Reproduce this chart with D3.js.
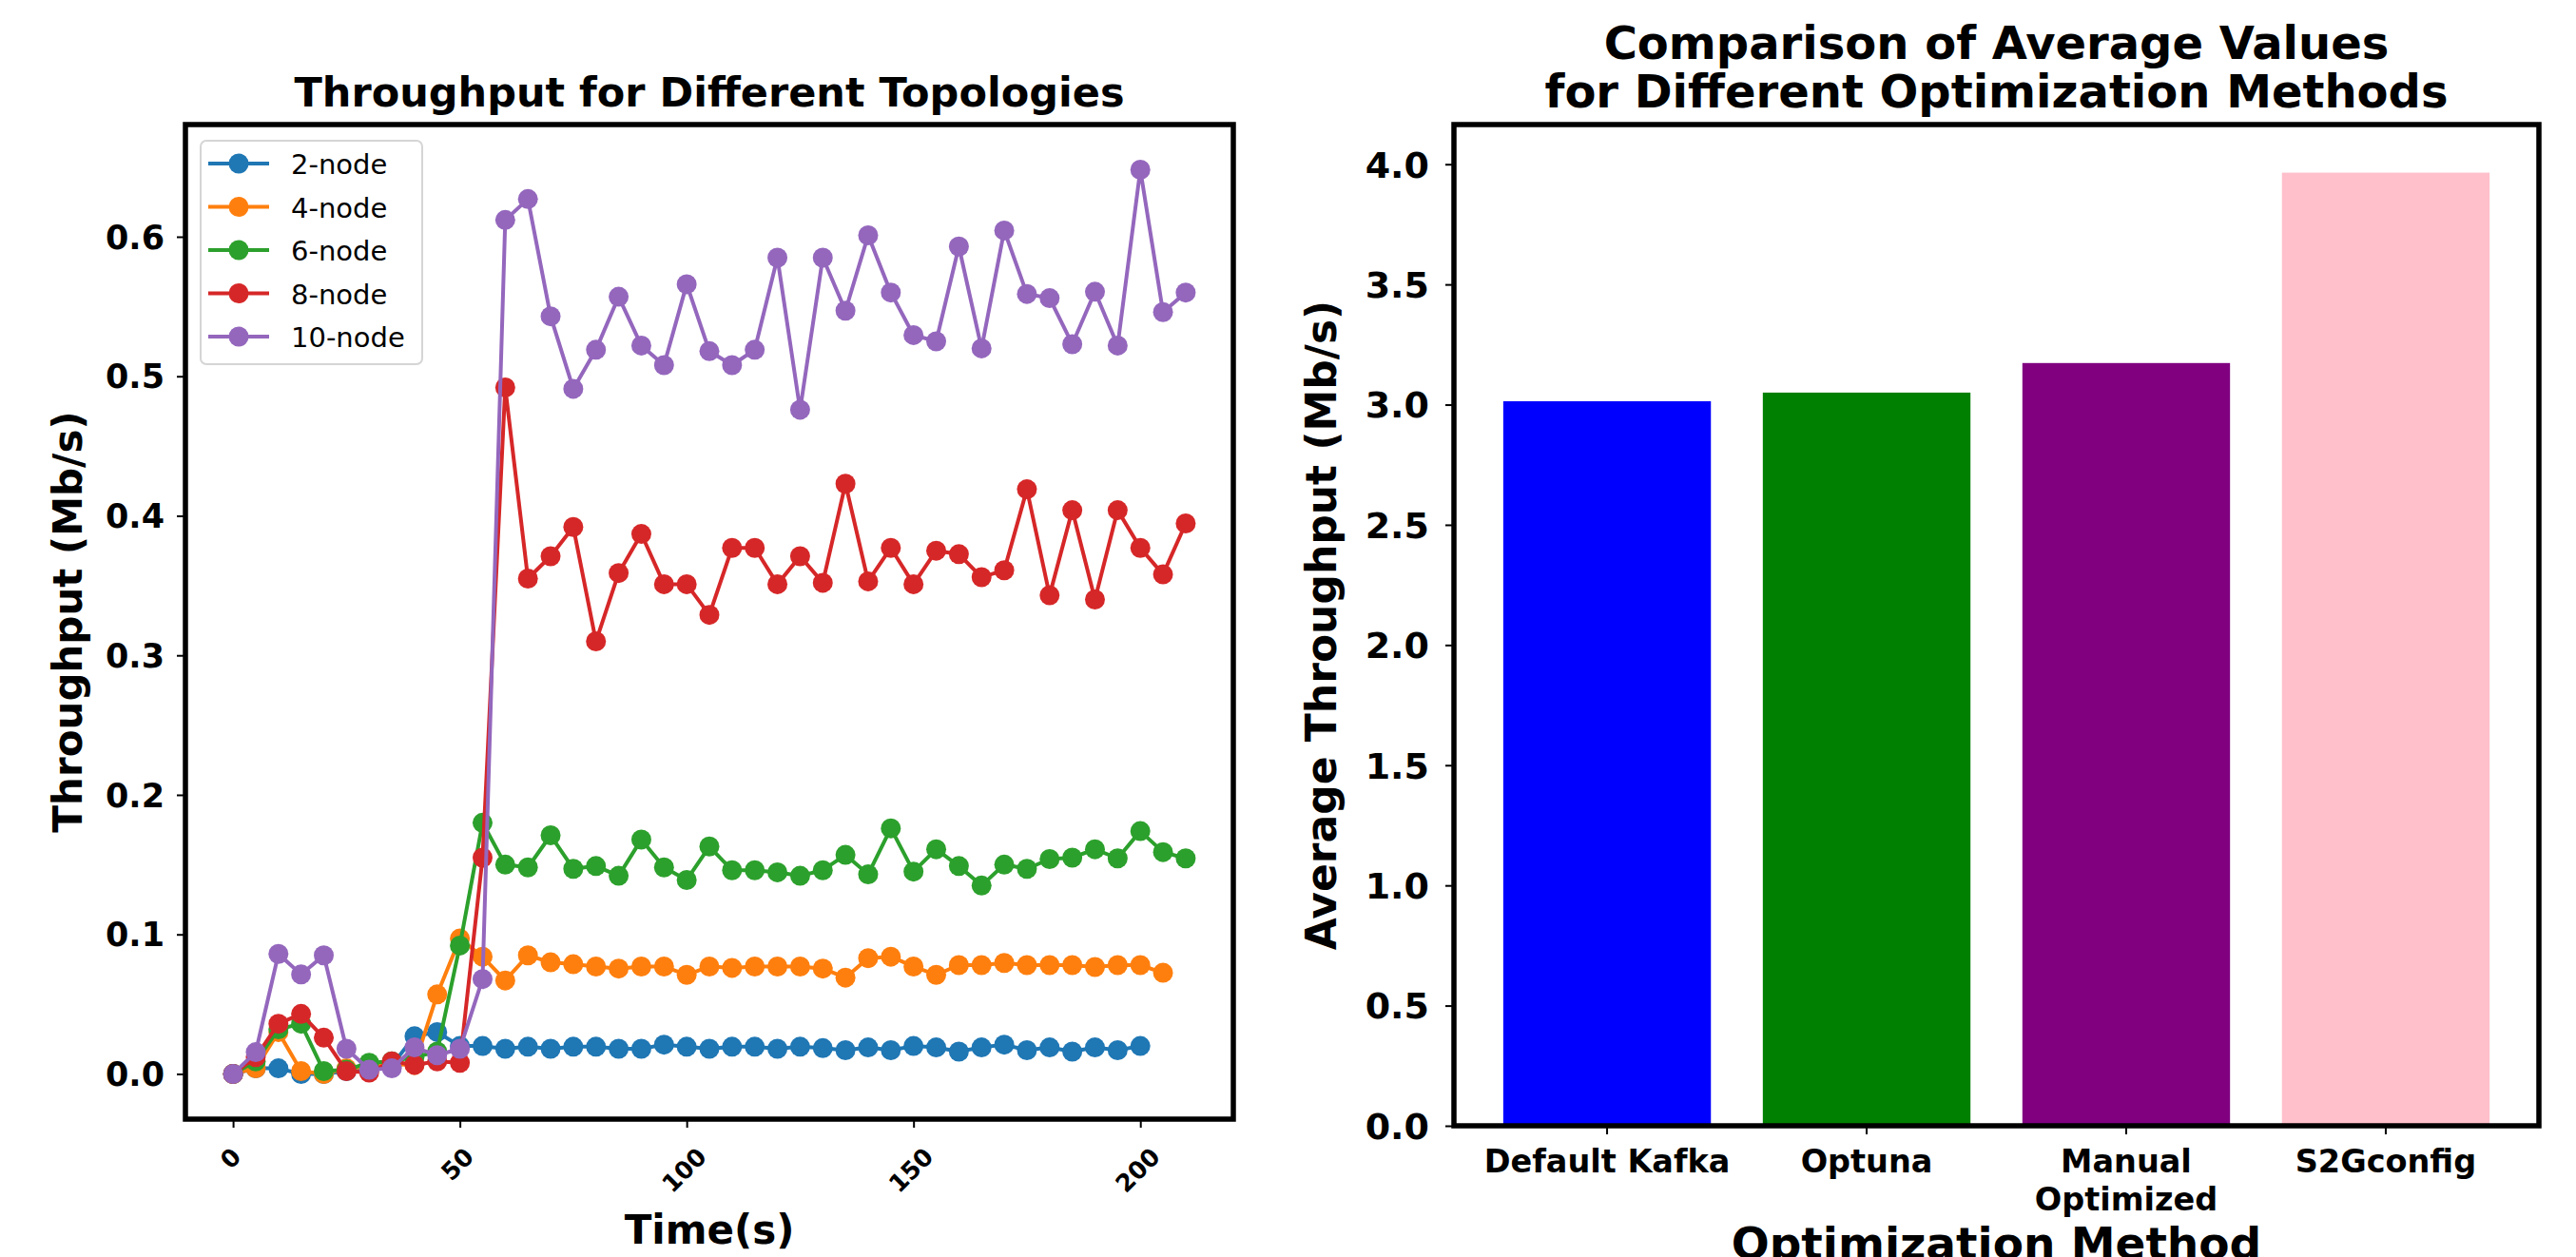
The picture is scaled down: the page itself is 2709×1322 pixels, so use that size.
<!DOCTYPE html>
<html><head><meta charset="utf-8">
<script src="https://cdn.jsdelivr.net/npm/d3@7"></script>
<style>
html,body{margin:0;padding:0;background:#fff;}
svg{display:block;}
text{font-family:"DejaVu Sans",sans-serif;}
</style>
</head><body>
<svg id="c" width="2709" height="1322"></svg>
<script>
// ---------- data ----------
const times = [0,5,10,15,20,25,30,35,40,45,50,55,60,65,70,75,80,85,90,95,100,105,110,115,120,125,130,135,140,145,150,155,160,165,170,175,180,185,190,195,200,205,210];
const seriesNames = ["2-node","4-node","6-node","8-node","10-node"];
const seriesColors = ["#1f77b4","#ff7f0e","#2ca02c","#d62728","#9467bd"];
const node2 = [0,0.004,0.004,0,0,0.002,0.003,0.006,0.027,0.030,0.020,0.020,0.018,0.0195,0.018,0.0195,0.0195,0.018,0.018,0.021,0.0195,0.018,0.0195,0.0195,0.018,0.0195,0.0185,0.017,0.019,0.017,0.020,0.019,0.016,0.019,0.021,0.017,0.019,0.016,0.019,0.017,0.020];
const node4 = [0,0.004,0.03,0.002,0,0.004,0.005,0.007,0.0065,0.057,0.097,0.084,0.067,0.085,0.080,0.0786,0.077,0.0755,0.077,0.077,0.071,0.077,0.076,0.077,0.077,0.077,0.0755,0.069,0.083,0.084,0.077,0.071,0.078,0.078,0.0795,0.078,0.078,0.078,0.0766,0.078,0.078,0.0725];
const node6 = [0,0.009,0.032,0.036,0.002,0.003,0.008,0.009,0.012,0.016,0.092,0.180,0.150,0.148,0.171,0.147,0.149,0.142,0.168,0.148,0.139,0.163,0.146,0.146,0.1445,0.142,0.146,0.157,0.143,0.176,0.145,0.161,0.149,0.135,0.150,0.147,0.154,0.155,0.161,0.1545,0.174,0.159,0.1545];
const node8 = [0,0.012,0.036,0.043,0.026,0.002,0.001,0.009,0.0065,0.009,0.008,0.155,0.492,0.355,0.371,0.392,0.31,0.359,0.387,0.351,0.351,0.329,0.377,0.377,0.351,0.371,0.352,0.423,0.353,0.377,0.351,0.375,0.3725,0.356,0.361,0.419,0.343,0.404,0.340,0.404,0.377,0.358,0.3945];
const node10 = [0,0.0156,0.086,0.0713,0.085,0.018,0.003,0.004,0.019,0.0134,0.018,0.068,0.612,0.627,0.543,0.491,0.519,0.557,0.522,0.508,0.566,0.518,0.508,0.519,0.585,0.476,0.585,0.547,0.601,0.560,0.5295,0.525,0.593,0.520,0.6045,0.559,0.556,0.523,0.5606,0.522,0.648,0.546,0.560];
const seriesValues = [node2,node4,node6,node8,node10];
const xTicks = [0,50,100,150,200];
const yTicksLeft = [0,0.1,0.2,0.3,0.4,0.5,0.6];

const methods = ["Default Kafka","Optuna","Manual\nOptimized","S2Gconfig"];
const methodValues = [3.014,3.05,3.173,3.965];
const methodColors = ["#0000ff","#008000","#800080","#ffc0cb"];
const yTicksRight = [0,0.5,1,1.5,2,2.5,3,3.5,4];

// ---------- layout ----------
const svg = d3.select("#c");
const L = {x0:195, x1:1297, y0:131, y1:1177};
const R = {x0:1529, x1:2670, y0:131, y1:1184};
const SPINE = 5.5, TICKLEN = 9, TICKW = 2;
const bold = "bold";

// ---------- left chart ----------
const x = d3.scaleLinear().domain([-10.5, 220.5]).range([L.x0, L.x1]);
const y = d3.scaleLinear().domain([-0.0324, 0.6804]).range([L.y1, L.y0]);

const gL = svg.append("g");
const line = d3.line().x(d => x(d[0])).y(d => y(d[1]));
seriesValues.forEach((vals, i) => {
  const pts = vals.map((v, j) => [times[j], v]);
  const g = gL.append("g");
  g.append("path").datum(pts).attr("d", line).attr("fill","none")
    .attr("stroke", seriesColors[i]).attr("stroke-width", 4).attr("stroke-linejoin","round");
  g.selectAll("circle").data(pts).enter().append("circle")
    .attr("cx", d => x(d[0])).attr("cy", d => y(d[1])).attr("r", 10.5)
    .attr("fill", seriesColors[i]);
});

// axes (ticks)
const yAxisL = d3.axisLeft(y).tickValues(yTicksLeft).tickSize(TICKLEN).tickFormat("");
const gYL = svg.append("g").attr("transform", `translate(${L.x0},0)`).call(yAxisL);
gYL.select(".domain").remove();
gYL.selectAll("line").attr("stroke","#000").attr("stroke-width",TICKW);
const xAxisL = d3.axisBottom(x).tickValues(xTicks).tickSize(TICKLEN).tickFormat("");
const gXL = svg.append("g").attr("transform", `translate(0,${L.y1})`).call(xAxisL);
gXL.select(".domain").remove();
gXL.selectAll("line").attr("stroke","#000").attr("stroke-width",TICKW);

// y tick labels
yTicksLeft.forEach(v => {
  svg.append("text").attr("x", 173).attr("y", y(v) + 0.3645*35)
    .attr("text-anchor","end").attr("font-size",35).attr("font-weight",bold)
    .text(d3.format(".1f")(v));
});
// x tick labels rotated
xTicks.forEach(v => {
  const fs = 25.5;
  const t = svg.append("text").attr("font-size",fs).attr("font-weight",bold)
    .attr("text-anchor","middle").text(String(v));
  const len = t.node().getComputedTextLength();
  const cy = 1205 + (len + 0.73*fs)/(2*Math.SQRT2);
  const cx = x(v) - 3;
  t.attr("transform", `translate(${cx},${cy}) rotate(-45)`).attr("y", 0.3645*fs);
});

// frame
svg.append("rect").attr("x",L.x0).attr("y",L.y0).attr("width",L.x1-L.x0).attr("height",L.y1-L.y0)
  .attr("fill","none").attr("stroke","#000").attr("stroke-width",SPINE);

// titles / labels
svg.append("text").attr("x",(L.x0+L.x1)/2).attr("y",112).attr("text-anchor","middle")
  .attr("font-size",43).attr("font-weight",bold).text("Throughput for Different Topologies");
svg.append("text").attr("x",(L.x0+L.x1)/2).attr("y",1308).attr("text-anchor","middle")
  .attr("font-size",42).attr("font-weight",bold).text("Time(s)");
svg.append("text").attr("transform",`translate(86,${(L.y0+L.y1)/2}) rotate(-90)`).attr("text-anchor","middle")
  .attr("font-size",42).attr("font-weight",bold).text("Throughput (Mb/s)");

// legend
const lg = svg.append("g");
lg.append("rect").attr("x",211).attr("y",148).attr("width",233).attr("height",235).attr("rx",6)
  .attr("fill","#fff").attr("fill-opacity",0.8).attr("stroke","#d5d5d5").attr("stroke-width",2);
seriesNames.forEach((n, i) => {
  const cy = 172 + i*45.5;
  lg.append("line").attr("x1",219).attr("x2",283).attr("y1",cy).attr("y2",cy)
    .attr("stroke",seriesColors[i]).attr("stroke-width",4);
  lg.append("circle").attr("cx",251).attr("cy",cy).attr("r",10.5).attr("fill",seriesColors[i]);
  lg.append("text").attr("x",306).attr("y",cy+11).attr("font-size",29).text(n);
});

// ---------- right chart ----------
const xb = d3.scaleBand().domain(methods).range([R.x0, R.x1]).paddingInner(0.2).paddingOuter(0.19);
const yb = d3.scaleLinear().domain([0, 4.165]).range([R.y1, R.y0]);

svg.append("g").selectAll("rect").data(methods).enter().append("rect")
  .attr("x", d => xb(d)).attr("width", xb.bandwidth())
  .attr("y", (d,i) => yb(methodValues[i])).attr("height", (d,i) => yb(0) - yb(methodValues[i]))
  .attr("fill", (d,i) => methodColors[i]);

const yAxisR = d3.axisLeft(yb).tickValues(yTicksRight).tickSize(TICKLEN).tickFormat("");
const gYR = svg.append("g").attr("transform", `translate(${R.x0},0)`).call(yAxisR);
gYR.select(".domain").remove();
gYR.selectAll("line").attr("stroke","#000").attr("stroke-width",TICKW);
const xAxisR = d3.axisBottom(xb).tickSize(TICKLEN).tickFormat("");
const gXR = svg.append("g").attr("transform", `translate(0,${R.y1})`).call(xAxisR);
gXR.select(".domain").remove();
gXR.selectAll("line").attr("stroke","#000").attr("stroke-width",TICKW);

yTicksRight.forEach(v => {
  svg.append("text").attr("x", 1503).attr("y", yb(v) + 0.3645*38)
    .attr("text-anchor","end").attr("font-size",38).attr("font-weight",bold)
    .text(d3.format(".1f")(v));
});
methods.forEach(m => {
  const t = svg.append("text").attr("text-anchor","middle").attr("font-size",33.5).attr("font-weight",bold);
  m.split("\n").forEach((s, k) => {
    t.append("tspan").attr("x", xb(m) + xb.bandwidth()/2).attr("y", 1232.7 + k*40).text(s);
  });
});

svg.append("rect").attr("x",R.x0).attr("y",R.y0).attr("width",R.x1-R.x0).attr("height",R.y1-R.y0)
  .attr("fill","none").attr("stroke","#000").attr("stroke-width",SPINE);

const rcx = (R.x0+R.x1)/2;
const tt = svg.append("text").attr("text-anchor","middle").attr("font-size",48).attr("font-weight",bold);
tt.append("tspan").attr("x",rcx).attr("y",62).text("Comparison of Average Values");
tt.append("tspan").attr("x",rcx).attr("y",113).text("for Different Optimization Methods");
svg.append("text").attr("x",rcx).attr("y",1324).attr("text-anchor","middle")
  .attr("font-size",47).attr("font-weight",bold).text("Optimization Method");
svg.append("text").attr("transform",`translate(1405,${(R.y0+R.y1)/2}) rotate(-90)`).attr("text-anchor","middle")
  .attr("font-size",44).attr("font-weight",bold).text("Average Throughput (Mb/s)");
</script>
</body></html>
